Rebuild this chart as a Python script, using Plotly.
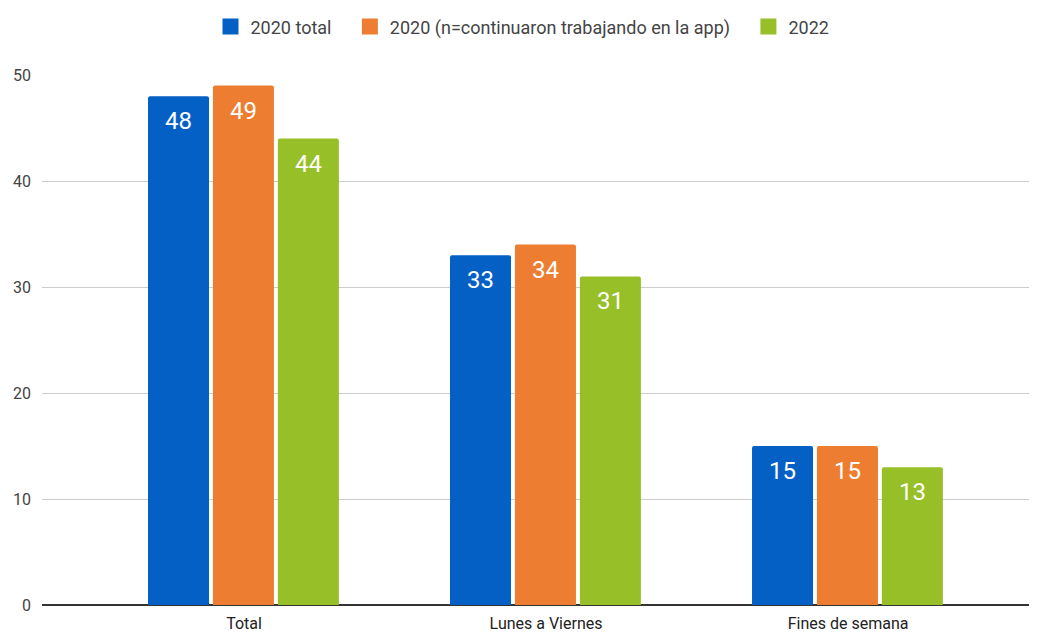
import plotly.graph_objects as go

categories = ['Total', 'Lunes a Viernes', 'Fines de semana']
series_names = ['2020 total', '2020 (n=continuaron trabajando en la app)', '2022']
values_2020_total = [48, 33, 15]
values_2020_app = [49, 34, 15]
values_2022 = [44, 31, 13]

colors = ['#0560C6', '#ED7D31', '#97BF27']
offsets = [-0.318, -0.103, 0.112]
bar_width = 0.202

fig = go.Figure()
annotations = []
for k, (name, vals, color, off) in enumerate(zip(series_names,
                                             [values_2020_total, values_2020_app, values_2022],
                                             colors, offsets)):
    fig.add_trace(go.Bar(
        name=name,
        x=list(range(len(categories))),
        y=vals,
        marker=dict(color=color, line=dict(width=0), cornerradius=2),
        offset=off,
        width=bar_width,
        hoverinfo='y+name',
        showlegend=False,
    ))
    # legend entry with a bigger square swatch
    pad = '\u00a0\u00a0\u00a0' if k < len(series_names) - 1 else ''
    fig.add_trace(go.Scatter(
        x=[None], y=[None], mode='markers', name=name + pad,
        marker=dict(symbol='square', size=16, color=color),
        showlegend=True,
    ))
    # value labels inside the top of each bar
    for i, v in enumerate(vals):
        annotations.append(dict(
            x=i + off + bar_width / 2, y=v, text=str(v),
            xref='x', yref='y', showarrow=False, yshift=-25,
            font=dict(family='Roboto', size=24, color='white'),
        ))

# page body adds an 8px margin, so the figure is sized to fit the window
fig.update_layout(
    width=1029, height=626,
    margin=dict(l=34, r=2, t=67, b=29),
    plot_bgcolor='white',
    paper_bgcolor='white',
    font=dict(family='Roboto', size=16, color='#444444'),
    showlegend=True,
    legend=dict(orientation='h', xref='container', x=0.5, xanchor='center',
                yref='container', y=0.970, yanchor='middle',
                font=dict(size=18, color='#444444'), itemwidth=30,
                itemsizing='trace'),
    annotations=annotations,
    xaxis=dict(
        tickmode='array',
        tickvals=list(range(len(categories))),
        ticktext=categories,
        range=[-0.669, 2.619],
        showgrid=False,
        showline=False,
        zeroline=False,
        automargin=False,
        tickfont=dict(size=16, color='#222222'),
        ticks='',
        ticklabelstandoff=7,
    ),
    yaxis=dict(
        range=[0, 50],
        tickvals=[0, 10, 20, 30, 40, 50],
        showgrid=True,
        gridcolor='#cccccc',
        gridwidth=1,
        zeroline=True,
        zerolinecolor='#333333',
        zerolinewidth=2,
        automargin=False,
        ticks='',
        ticklabelstandoff=10,
        tickfont=dict(size=16, color='#444444'),
    ),
)

fig.write_html("out.html")
